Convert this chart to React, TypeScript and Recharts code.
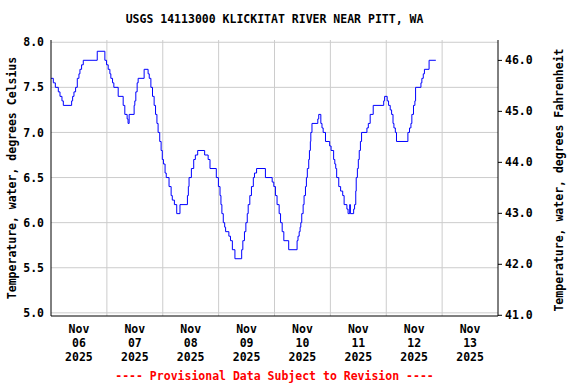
import { LineChart, Line, XAxis, YAxis, CartesianGrid } from 'recharts';

// [hours since Nov 06 00:00, water temperature °C]
const nov06 = [
  [0, 7.6], [1.0, 7.55], [1.86, 7.5], [3.14, 7.45], [3.86, 7.4], [4.71, 7.35], [5.29, 7.3],
  [8.86, 7.35], [9.29, 7.4], [9.86, 7.45], [10.57, 7.5], [11.29, 7.6], [12.0, 7.65], [12.43, 7.7],
  [13.14, 7.75], [13.86, 7.8], [19.86, 7.9], [23.14, 7.8], [23.86, 7.75],
];
const nov07 = [
  [24.57, 7.7], [25.29, 7.65], [25.71, 7.6], [26.43, 7.55], [27.0, 7.5], [28.86, 7.4], [31.0, 7.3],
  [31.71, 7.2], [32.7, 7.15], [33.1, 7.1], [33.57, 7.2], [35.71, 7.3], [36.0, 7.35], [36.43, 7.45],
  [37.0, 7.55], [37.43, 7.6], [40.0, 7.7], [41.71, 7.65], [42.2, 7.6], [42.9, 7.5], [43.6, 7.4],
  [44.3, 7.3], [44.9, 7.2], [45.5, 7.1], [46.0, 7.0], [46.7, 6.9], [47.3, 6.8], [47.8, 6.7],
];
const nov08 = [
  [48.3, 6.65], [49.0, 6.55], [49.5, 6.5], [50.7, 6.4], [51.6, 6.3], [52.1, 6.25], [53.0, 6.2],
  [54.0, 6.1], [55.4, 6.2], [58.6, 6.3], [59.0, 6.4], [59.3, 6.5], [60.3, 6.6], [61.3, 6.7],
  [62.0, 6.75], [63.0, 6.8], [66.0, 6.75], [67.5, 6.7], [68.3, 6.6], [71.0, 6.5], [71.9, 6.4],
];
const nov09 = [
  [72.6, 6.3], [73.0, 6.2], [73.4, 6.1], [74.0, 6.0], [74.6, 5.95], [75.0, 5.9], [76.4, 5.85],
  [77.1, 5.8], [77.9, 5.7], [79.0, 5.6], [81.9, 5.7], [82.4, 5.8], [83.1, 5.9], [83.7, 6.0],
  [84.3, 6.1], [84.7, 6.2], [85.4, 6.3], [86.1, 6.4], [86.9, 6.5], [87.4, 6.55], [88.3, 6.6],
  [92.1, 6.5], [95.0, 6.45], [95.7, 6.4],
];
const nov10 = [
  [96.4, 6.3], [97.1, 6.2], [98.0, 6.1], [98.6, 6.0], [99.3, 5.9], [100.0, 5.8], [102.1, 5.7],
  [105.7, 5.8], [106.1, 5.85], [106.6, 5.9], [107.0, 5.95], [107.3, 6.0], [107.7, 6.1], [108.3, 6.2],
  [108.7, 6.3], [109.3, 6.4], [109.7, 6.5], [110.1, 6.6], [110.7, 6.7], [111.0, 6.8], [111.4, 6.9],
  [111.6, 7.0], [112.1, 7.1], [114.6, 7.15], [115.0, 7.2], [115.9, 7.1], [116.4, 7.05], [116.9, 7.0],
  [117.9, 6.9], [119.7, 6.85],
];
const nov11 = [
  [120.3, 6.8], [121.4, 6.7], [121.9, 6.65], [122.3, 6.6], [122.7, 6.5], [123.6, 6.4], [124.4, 6.35],
  [125.3, 6.3], [125.9, 6.2], [127.1, 6.15], [127.6, 6.1], [128.3, 6.2], [128.6, 6.1], [130.0, 6.15],
  [130.4, 6.2], [130.9, 6.35], [131.1, 6.5], [131.6, 6.6], [132.0, 6.7], [132.4, 6.8], [132.9, 6.9],
  [133.4, 7.0], [135.7, 7.05], [136.3, 7.1], [137.1, 7.2], [138.4, 7.3], [142.9, 7.35], [143.3, 7.4],
];
const nov12 = [
  [144.4, 7.35], [145.0, 7.3], [145.7, 7.25], [146.3, 7.2], [146.9, 7.1], [147.3, 7.05], [147.9, 7.0],
  [148.4, 6.9], [153.3, 7.0], [154.0, 7.05], [154.6, 7.1], [155.0, 7.2], [155.7, 7.3], [156.3, 7.35],
  [156.6, 7.5], [158.9, 7.55], [159.3, 7.6], [159.9, 7.65], [160.4, 7.7], [162.4, 7.8], [165.3, 7.8],
];

const dayLabels = ['06', '07', '08', '09', '10', '11', '12', '13'];
const celsiusTicks = [5.0, 5.5, 6.0, 6.5, 7.0, 7.5, 8.0];
const fahrenheitTicks = [41, 42, 43, 44, 45, 46];

const noonTicks = dayLabels.map((_, i) => 12 + i * 24);
const midnightLines = dayLabels.slice(1).map((_, i) => 24 + i * 24);

const data = [...nov06, ...nov07, ...nov08, ...nov09, ...nov10, ...nov11, ...nov12].map(([h, t]) => ({ h, t }));

const FONT = '"DejaVu Sans Mono", monospace';
const tickStyle = { fill: '#000', fontSize: 11.5, fontFamily: FONT, fontWeight: 'bold' };

const DayTick = (props: any) => {
  const { x, payload } = props;
  const label = dayLabels[Math.round((payload.value - 12) / 24)];
  return (
    <g transform={`translate(${x},316)`}>
      <text textAnchor="middle" style={tickStyle} fill="#000">
        <tspan x={0} y={17}>Nov</tspan>
        <tspan x={0} y={31}>{label}</tspan>
        <tspan x={0} y={45}>2025</tspan>
      </text>
    </g>
  );
};

export default function App() {
  return (
    <div style={{ position: 'absolute', left: 0, top: 0, width: 576, height: 384, background: '#fff' }}>
      <LineChart width={576} height={384} data={data} margin={{ top: 40, right: 0, bottom: 8, left: 0 }}>
        <CartesianGrid
          xAxisId="main"
          yAxisId="left"
          stroke="#cccccc"
          horizontalValues={celsiusTicks}
          verticalValues={midnightLines}
        />
        <XAxis
          xAxisId="main"
          dataKey="h"
          type="number"
          domain={[0, 192]}
          ticks={noonTicks}
          interval={0}
          height={60}
          tickLine={false}
          tickSize={0}
          tickMargin={0}
          axisLine={{ stroke: '#000' }}
          tick={<DayTick />}
        />
        <XAxis
          xAxisId="top"
          orientation="top"
          type="number"
          domain={[0, 192]}
          height={0}
          tick={false}
          tickLine={false}
          axisLine={{ stroke: '#000' }}
        />
        <YAxis
          yAxisId="left"
          type="number"
          domain={[4.965, 8.025]}
          allowDataOverflow
          ticks={celsiusTicks}
          interval={0}
          width={51}
          tickLine={false}
          tickSize={0}
          tickMargin={7}
          axisLine={{ stroke: '#000' }}
          tick={tickStyle}
          tickFormatter={(v: number) => v.toFixed(1)}
        />
        <YAxis
          yAxisId="right"
          orientation="right"
          type="number"
          domain={[40.986, 46.4]}
          allowDataOverflow
          ticks={fahrenheitTicks}
          interval={0}
          width={78}
          tickSize={4}
          tickMargin={3}
          tickLine={{ stroke: '#000' }}
          axisLine={{ stroke: '#000' }}
          tick={tickStyle}
          tickFormatter={(v: number) => v.toFixed(1)}
        />
        <Line
          xAxisId="main"
          yAxisId="left"
          dataKey="t"
          type="stepAfter"
          stroke="#0000ff"
          strokeWidth={1}
          dot={false}
          isAnimationActive={false}
        />
      </LineChart>
      <svg width={576} height={384} style={{ position: 'absolute', left: 0, top: 0, pointerEvents: 'none' }}>
        <g style={tickStyle}>
          <text x={274.5} y={23} textAnchor="middle">USGS 14113000 KLICKITAT RIVER NEAR PITT, WA</text>
          <text x={16} y={178} textAnchor="middle" transform="rotate(-90 16 178)">
            Temperature, water, degrees Celsius
          </text>
          <text x={563} y={180} textAnchor="middle" transform="rotate(-90 563 180)">
            Temperature, water, degrees Fahrenheit
          </text>
          <text x={274.5} y={380} textAnchor="middle" fill="#ff0000" style={{ ...tickStyle, fill: '#ff0000' }}>
            ---- Provisional Data Subject to Revision ----
          </text>
        </g>
      </svg>
    </div>
  );
}
